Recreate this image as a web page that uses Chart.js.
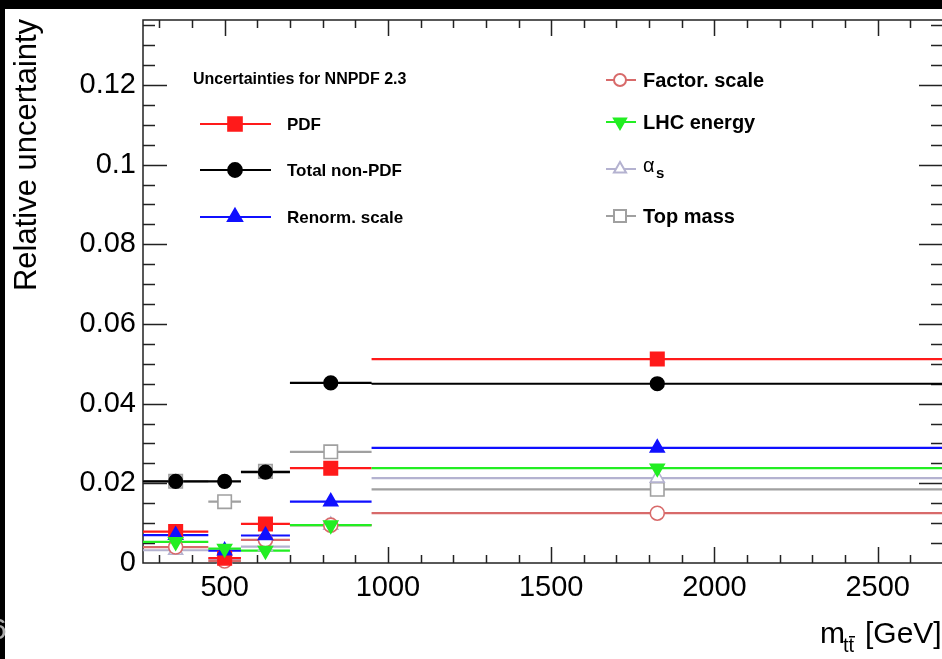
<!DOCTYPE html>
<html>
<head>
<meta charset="utf-8">
<script src="https://cdn.jsdelivr.net/npm/chart.js@4.4.1/dist/chart.umd.min.js"></script>
<style>
  html, body { margin: 0; padding: 0; background: #000; width: 942px; height: 659px; overflow: hidden; }
  #wrap { position: absolute; left: 5px; top: 9px; width: 938px; height: 650px; background: #fff; }
  #pg { position: absolute; left: -10px; top: 612px; font: 30px "Liberation Sans", Arial, sans-serif; color: #aaa; }
</style>
</head>
<body>
<div id="wrap"><canvas id="c" width="938" height="650"></canvas></div>
<div id="pg">6</div>
<script>
// m_ttbar bins and relative uncertainties (NNPDF 2.3)
const binEdges = [250, 450, 550, 700, 950, 2700];
const binCenters = [350, 500, 625, 825, 1825];
const pdf = [0.0079, 0.0012, 0.0098, 0.0238, 0.0512];
const totalNonPdf = [0.0205, 0.0205, 0.0228, 0.0452, 0.0450];
const renormScale = [0.0070, 0.0031, 0.0069, 0.0154, 0.0289];
const factorScale = [0.0040, 0.0005, 0.0058, 0.0095, 0.0125];
const lhcEnergy = [0.0053, 0.0036, 0.0031, 0.0095, 0.0238];
const alphaS = [0.0032, 0.0010, 0.0041, 0.0095, 0.0213];
const topMass = [0.0205, 0.0154, 0.0230, 0.0279, 0.0185];
const xTickLabels = [500, 1000, 1500, 2000, 2500];
const yTickLabels = [0, 0.02, 0.04, 0.06, 0.08, 0.1, 0.12];

const FONT = '"Liberation Sans", Arial, Helvetica, sans-serif';
const OX = 5, OY = 9;              // canvas offset inside the page
const P = x => x - OX, Q = y => y - OY;

// drawing order: first one ends up on top
const series = [
  { label: 'Total non-PDF', values: totalNonPdf, color: '#000', fill: '#000', style: 'circle', r: 6.8 },
  { label: 'LHC energy', values: lhcEnergy, color: '#22ee22', fill: '#22ee22', style: 'triangle', r: 8, rot: 180 },
  { label: 'Renorm. scale', values: renormScale, color: '#1010ff', fill: '#1010ff', style: 'triangle', r: 8 },
  { label: 'PDF', values: pdf, color: '#ff1a1a', fill: '#ff1a1a', style: 'rect', r: 9.5 },
  { label: 'Factor. scale', values: factorScale, color: '#d86a6a', fill: '#fff', style: 'circle', r: 7 },
  { label: 'alpha_s', values: alphaS, color: '#b4b2d0', fill: '#fff', style: 'triangle', r: 8 },
  { label: 'Top mass', values: topMass, color: '#a0a0a0', fill: '#fff', style: 'rect', r: 9.5 }
];

const datasets = [];
series.forEach((s, i) => {
  datasets.push({
    type: 'scatter',
    label: s.label,
    data: binCenters.map((x, k) => ({ x: x, y: s.values[k] })),
    pointStyle: s.style,
    pointRadius: s.r,
    pointRotation: s.rot || 0,
    pointBackgroundColor: s.fill,
    pointBorderColor: s.color,
    pointBorderWidth: 1.6,
    showLine: false,
    clip: false,
    order: i
  });
});
series.forEach((s, i) => {
  const pts = [];
  s.values.forEach((v, k) => {
    pts.push({ x: binEdges[k], y: v }, { x: binEdges[k + 1], y: v }, { x: binEdges[k + 1], y: null });
  });
  datasets.push({
    type: 'scatter',
    label: s.label + ' bins',
    data: pts,
    showLine: true,
    spanGaps: false,
    borderColor: s.color,
    borderWidth: 2.2,
    pointRadius: 0,
    order: 20 + i
  });
});

const frame = {
  id: 'frame',
  beforeDatasetsDraw(chart) {
    const { ctx, chartArea: a, scales: { x, y } } = chart;
    ctx.save();
    ctx.strokeStyle = '#222';
    ctx.lineWidth = 1.5;
    ctx.strokeRect(a.left, a.top, a.right - a.left, a.bottom - a.top);
    ctx.beginPath();
    for (let v = 300; v < 2700; v += 100) {
      const px = Math.round(x.getPixelForValue(v)) + 0.5;
      const len = v % 500 === 0 ? 16 : 8;
      ctx.moveTo(px, a.bottom); ctx.lineTo(px, a.bottom - len);
      ctx.moveTo(px, a.top); ctx.lineTo(px, a.top + len);
    }
    for (let i = 1; i * 0.005 < y.max; i++) {
      const py = Math.round(y.getPixelForValue(i * 0.005)) + 0.5;
      const len = i % 4 === 0 ? 24 : 12;
      ctx.moveTo(a.left, py); ctx.lineTo(a.left + len, py);
      ctx.moveTo(a.right, py); ctx.lineTo(a.right - len, py);
    }
    ctx.stroke();
    ctx.restore();
  }
};

function marker(ctx, s, x, y, r) {
  ctx.fillStyle = s.fill;
  ctx.strokeStyle = s.color;
  Chart.helpers.drawPoint(ctx, { pointStyle: s.style, radius: r || s.r, rotation: s.rot || 0, borderWidth: 1.6 }, x, y);
}

const decor = {
  id: 'decor',
  afterDraw(chart) {
    const ctx = chart.ctx;
    ctx.save();
    ctx.fillStyle = '#000';
    // axis titles
    ctx.font = '31px ' + FONT;
    ctx.textBaseline = 'alphabetic';
    ctx.save();
    ctx.translate(P(36), Q(155));
    ctx.rotate(-Math.PI / 2);
    ctx.textAlign = 'center';
    ctx.fillText('Relative uncertainty', 0, 0);
    ctx.restore();
    ctx.textAlign = 'left';
    ctx.font = '30px ' + FONT;
    ctx.fillText('m', P(820), Q(643));
    ctx.font = '20px ' + FONT;
    ctx.fillText('tt', P(843), Q(652));
    ctx.fillRect(P(849), Q(636), 6, 1.5);
    ctx.font = '30px ' + FONT;
    ctx.fillText('[GeV]', P(865), Q(643));

    // legend, left column
    const byLabel = l => series.find(s => s.label === l);
    ctx.textBaseline = 'middle';
    ctx.font = 'bold 16px ' + FONT;
    ctx.fillText('Uncertainties for NNPDF 2.3', P(193), Q(80));
    const left = [['PDF', 124], ['Total non-PDF', 170], ['Renorm. scale', 217]];
    left.forEach(([l, yy]) => {
      const s = byLabel(l);
      ctx.strokeStyle = s.color; ctx.lineWidth = 2.2;
      ctx.beginPath(); ctx.moveTo(P(200), Q(yy)); ctx.lineTo(P(271), Q(yy)); ctx.stroke();
      marker(ctx, s, P(235), Q(yy));
      ctx.fillStyle = '#000';
      ctx.font = 'bold 17px ' + FONT;
      ctx.fillText(l, P(287), Q(yy) + 1);
    });
    // legend, right column
    const right = [['Factor. scale', 80], ['LHC energy', 122], ['alpha_s', 169], ['Top mass', 216]];
    right.forEach(([l, yy]) => {
      const s = byLabel(l);
      ctx.strokeStyle = s.color; ctx.lineWidth = 2;
      ctx.beginPath(); ctx.moveTo(P(606), Q(yy)); ctx.lineTo(P(636), Q(yy)); ctx.stroke();
      marker(ctx, s, P(620), Q(yy), s.r - 1);
      ctx.fillStyle = '#000';
      if (l === 'alpha_s') {
        ctx.font = '20px ' + FONT;
        ctx.fillText('\u03b1', P(643), Q(yy) - 3);
        ctx.font = 'bold 15px ' + FONT;
        ctx.fillText('s', P(656), Q(yy) + 5);
      } else {
        ctx.font = 'bold 20px ' + FONT;
        ctx.fillText(l, P(643), Q(yy) + 1);
      }
    });
    ctx.restore();
  }
};

new Chart(document.getElementById('c'), {
  type: 'scatter',
  data: { datasets: datasets },
  options: {
    responsive: false,
    animation: false,
    events: [],
    layout: { autoPadding: false, padding: { top: 11, left: 0, right: 0, bottom: 0 } },
    plugins: { legend: { display: false }, tooltip: { enabled: false } },
    scales: {
      x: {
        type: 'linear', min: 250, max: 2700,
        afterBuildTicks: s => { s.ticks = xTickLabels.map(v => ({ value: v })); },
        afterFit: s => { s.height = 96; s.paddingLeft = 0; s.paddingRight = 0; },
        grid: { display: false, drawTicks: false },
        border: { display: false },
        ticks: { callback: v => String(v), color: '#000', font: { family: FONT, size: 29 }, padding: 8, maxRotation: 0, autoSkip: false }
      },
      y: {
        type: 'linear', min: 0, max: 0.1363,
        afterBuildTicks: s => { s.ticks = yTickLabels.map(v => ({ value: v })); },
        afterFit: s => { s.width = 138; s.paddingTop = 0; s.paddingBottom = 0; },
        grid: { display: false, drawTicks: false },
        border: { display: false },
        ticks: { callback: v => String(v), color: '#000', font: { family: FONT, size: 29 }, padding: 7, autoSkip: false }
      }
    }
  },
  plugins: [frame, decor]
});
</script>
</body>
</html>
